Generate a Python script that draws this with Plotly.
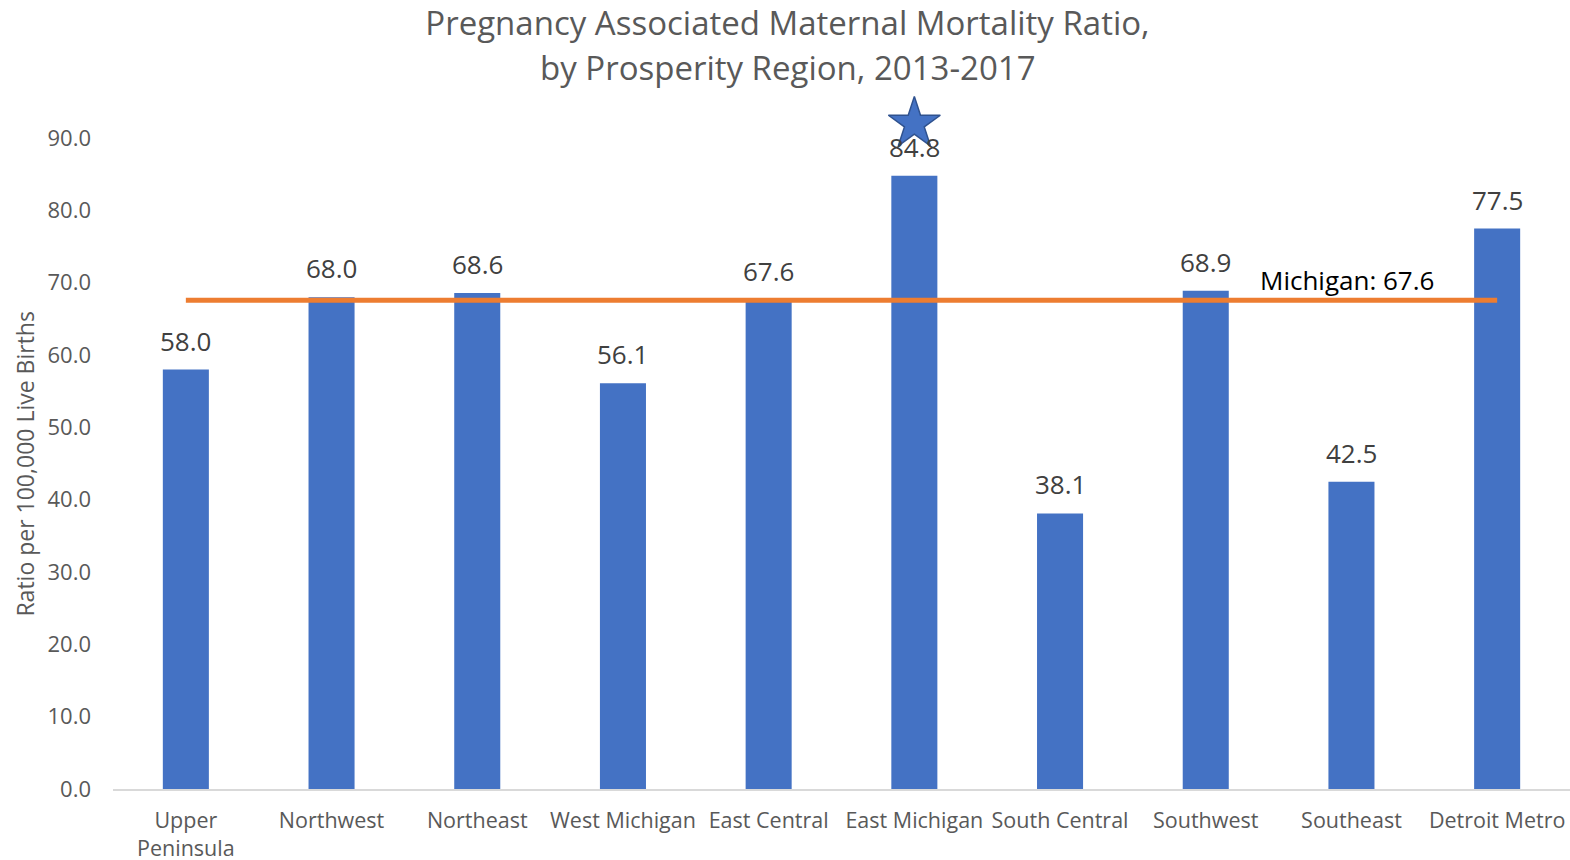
import plotly.graph_objects as go

regions = ["Upper<br>Peninsula", "Northwest", "Northeast", "West Michigan", "East Central",
           "East Michigan", "South Central", "Southwest", "Southeast", "Detroit Metro"]
ratios = [58.0, 68.0, 68.6, 56.1, 67.6, 84.8, 38.1, 68.9, 42.5, 77.5]
michigan_rate = 67.6
star_region = ["East Michigan"]
star_y = [92.0]
title_line1 = "Pregnancy Associated Maternal Mortality Ratio,"
title_line2 = "by Prosperity Region, 2013-2017"
y_title = "Ratio per 100,000 Live Births"
y_ticks = [0, 10, 20, 30, 40, 50, 60, 70, 80, 90]

font_fam = "Open Sans, Liberation Sans, sans-serif"
W, H = 1570, 860
PLOT_LEFT, PLOT_RIGHT = 113, 1570
PLOT_TOP, PLOT_BOTTOM = 102, 789
pw = PLOT_RIGHT - PLOT_LEFT
ph = PLOT_BOTTOM - PLOT_TOP
TITLE_CX = 787.5
Y_MAX = 95

fig = go.Figure()
fig.add_trace(go.Bar(
    x=regions, y=ratios, width=0.316, marker_color="#4472C4",
    marker_line_width=0, showlegend=False, hoverinfo="x+y",
))
fig.add_trace(go.Scatter(
    x=[regions[0], regions[-1]], y=[michigan_rate, michigan_rate],
    mode="lines", line=dict(color="#ED7D31", width=5), showlegend=False,
))

for r, v in zip(regions, ratios):
    fig.add_annotation(x=r, y=v, text=f"{v:.1f}", showarrow=False,
                       yanchor="bottom", yshift=9,
                       font=dict(size=26, color="#404040", family=font_fam))

fig.add_trace(go.Scatter(
    x=star_region, y=star_y, mode="markers",
    marker=dict(symbol="star", size=39, color="#4472C4",
                line=dict(color="#2F528F", width=1.5)),
    cliponaxis=False, showlegend=False,
))

fig.add_annotation(x="Southeast", y=michigan_rate, text=f"Michigan: {michigan_rate}",
                   showarrow=False, yanchor="bottom", yshift=0, xshift=-4,
                   font=dict(size=26, color="#000000", family=font_fam))

fig.add_annotation(xref="paper", yref="paper", x=(TITLE_CX - PLOT_LEFT) / pw,
                   y=(PLOT_BOTTOM - 68) / ph, text=title_line2, showarrow=False,
                   xanchor="center", yanchor="middle",
                   font=dict(size=33, color="#595959", family=font_fam))

# y-axis title centred on the 0-90 tick span
fig.add_annotation(xref="paper", yref="paper", x=(25 - PLOT_LEFT) / pw,
                   y=(y_ticks[0] + y_ticks[-1]) / 2 / Y_MAX, text=y_title,
                   textangle=-90, showarrow=False, xanchor="center", yanchor="middle",
                   font=dict(size=23, color="#595959", family=font_fam))

fig.update_layout(
    width=W, height=H,
    paper_bgcolor="white", plot_bgcolor="white",
    margin=dict(l=PLOT_LEFT, r=W - PLOT_RIGHT, t=PLOT_TOP, b=H - PLOT_BOTTOM),
    title=dict(text=title_line1, x=TITLE_CX / W, xanchor="center",
               y=1 - 23 / H, yanchor="middle", xref="container", yref="container",
               font=dict(size=33, color="#595959", family=font_fam)),
    bargap=0.684,
)
fig.update_xaxes(showline=True, linecolor="#D9D9D9", linewidth=1.5, showgrid=False,
                 ticks="", automargin=False, ticklabelstandoff=11,
                 tickfont=dict(size=21.5, color="#595959", family=font_fam))
fig.update_yaxes(range=[0, Y_MAX], tickvals=y_ticks,
                 tickformat=".1f", showgrid=False, automargin=False,
                 zeroline=False, ticks="", ticklabelstandoff=21,
                 tickfont=dict(size=22, color="#595959", family=font_fam))

fig.write_html("out.html", config={"displayModeBar": False},
               post_script="document.body.style.margin='0';document.body.style.overflow='hidden';")
